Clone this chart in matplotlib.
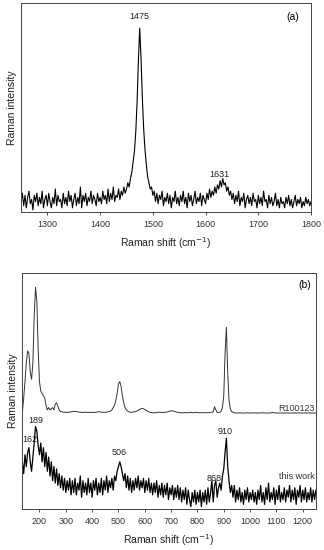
#!/usr/bin/env python3
import numpy as np
import matplotlib.pyplot as plt

plt.rcParams["font.family"] = ["Liberation Sans", "DejaVu Sans"]

# ===== data (intensities as fraction of axis height) =====
# panel (a): 1250-1800 cm-1, every 2.5 cm-1
shift_a = np.arange(0, 221) * 2.5 + 1250
inten_a = [
    0.05, 0.09, 0.03, 0.08, 0.02, 0.07, 0.10, 0.04, 0.06, 0.01, 0.08, 0.05, 0.09, 0.03, 0.07, 0.04, 0.10, 0.02, 0.06, 0.08,
    0.03, 0.09, 0.05, 0.02, 0.07, 0.04, 0.11, 0.03, 0.08, 0.05, 0.06, 0.02, 0.09, 0.04, 0.07, 0.03, 0.10, 0.05, 0.08, 0.02,
    0.06, 0.09, 0.03, 0.07, 0.04, 0.12, 0.02, 0.08, 0.05, 0.09, 0.03, 0.07, 0.05, 0.10, 0.04, 0.08, 0.06, 0.03, 0.09, 0.05,
    0.07, 0.04, 0.10, 0.06, 0.08, 0.04, 0.11, 0.05, 0.09, 0.06, 0.12, 0.05, 0.08, 0.07, 0.11, 0.06, 0.10, 0.08, 0.12, 0.09,
    0.11, 0.14, 0.12, 0.16, 0.19, 0.24, 0.29, 0.38, 0.52, 0.72, 0.88, 0.74, 0.55, 0.40, 0.30, 0.23, 0.17, 0.14, 0.11, 0.12,
    0.08, 0.10, 0.05, 0.09, 0.04, 0.08, 0.06, 0.10, 0.03, 0.07, 0.05, 0.09, 0.04, 0.08, 0.02, 0.07, 0.05, 0.10, 0.04, 0.07,
    0.03, 0.08, 0.05, 0.10, 0.04, 0.07, 0.02, 0.09, 0.05, 0.08, 0.03, 0.06, 0.10, 0.04, 0.07, 0.05, 0.09, 0.03, 0.08, 0.06,
    0.04, 0.09, 0.06, 0.11, 0.07, 0.10, 0.08, 0.12, 0.09, 0.13, 0.11, 0.15, 0.12, 0.16, 0.13, 0.14, 0.10, 0.12, 0.08, 0.10,
    0.06, 0.09, 0.04, 0.08, 0.05, 0.10, 0.03, 0.07, 0.05, 0.09, 0.02, 0.06, 0.08, 0.04, 0.07, 0.03, 0.09, 0.05, 0.06, 0.02,
    0.08, 0.04, 0.07, 0.03, 0.10, 0.05, 0.06, 0.02, 0.08, 0.04, 0.07, 0.03, 0.05, 0.09, 0.03, 0.06, 0.02, 0.07, 0.04, 0.05,
    0.02, 0.07, 0.04, 0.08, 0.03, 0.06, 0.02, 0.05, 0.08, 0.03, 0.06, 0.04, 0.07, 0.02, 0.05, 0.03, 0.07, 0.04, 0.06, 0.03,
    0.05,
]
peaks_a = [1475, 1631]

# panel (b): 135-1250 cm-1, every 5 cm-1
shift_b = np.arange(135, 1251, 5)
this_work = [
    0.20, 0.15, 0.23, 0.18, 0.24, 0.26, 0.20, 0.16, 0.22, 0.28, 0.35, 0.33, 0.27, 0.23, 0.28, 0.20, 0.26, 0.18, 0.24, 0.16,
    0.22, 0.14, 0.20, 0.12, 0.18, 0.11, 0.17, 0.10, 0.15, 0.09, 0.14, 0.08, 0.13, 0.07, 0.12, 0.08, 0.13, 0.06, 0.12, 0.07,
    0.13, 0.06, 0.11, 0.08, 0.14, 0.05, 0.12, 0.07, 0.11, 0.06, 0.13, 0.07, 0.11, 0.05, 0.12, 0.08, 0.13, 0.06, 0.11, 0.07,
    0.13, 0.06, 0.12, 0.08, 0.14, 0.07, 0.12, 0.09, 0.13, 0.08, 0.14, 0.12, 0.16, 0.18, 0.20, 0.18, 0.15, 0.12, 0.15, 0.09,
    0.14, 0.08, 0.13, 0.07, 0.12, 0.08, 0.13, 0.09, 0.14, 0.08, 0.12, 0.09, 0.13, 0.07, 0.12, 0.08, 0.13, 0.07, 0.11, 0.06,
    0.11, 0.07, 0.12, 0.05, 0.10, 0.06, 0.11, 0.05, 0.10, 0.06, 0.11, 0.04, 0.09, 0.06, 0.10, 0.04, 0.09, 0.05, 0.10, 0.04,
    0.09, 0.03, 0.08, 0.04, 0.09, 0.02, 0.08, 0.04, 0.01, 0.07, 0.03, 0.08, 0.02, 0.07, 0.03, 0.08, 0.01, 0.07, 0.03, 0.08,
    0.02, 0.09, 0.03, 0.07, 0.12, 0.03, 0.10, 0.12, 0.05, 0.09, 0.11, 0.08, 0.14, 0.17, 0.24, 0.30, 0.18, 0.12, 0.07, 0.10,
    0.05, 0.10, 0.03, 0.08, 0.04, 0.09, 0.03, 0.07, 0.02, 0.08, 0.04, 0.09, 0.03, 0.07, 0.04, 0.08, 0.03, 0.07, 0.02, 0.08,
    0.04, 0.10, 0.03, 0.07, 0.02, 0.09, 0.04, 0.11, 0.03, 0.07, 0.04, 0.09, 0.02, 0.08, 0.04, 0.10, 0.03, 0.07, 0.04, 0.09,
    0.03, 0.08, 0.05, 0.10, 0.03, 0.08, 0.04, 0.09, 0.02, 0.08, 0.05, 0.10, 0.03, 0.08, 0.04, 0.09, 0.03, 0.07, 0.04, 0.09,
    0.03, 0.08, 0.04, 0.08,
]
reference = [
    0.41, 0.47, 0.54, 0.62, 0.67, 0.66, 0.58, 0.55, 0.62, 0.82, 0.94, 0.88, 0.68, 0.54, 0.50, 0.49, 0.48, 0.47, 0.44, 0.42,
    0.43, 0.42, 0.425, 0.43, 0.42, 0.445, 0.45, 0.435, 0.42, 0.414, 0.412, 0.411, 0.41, 0.41, 0.409, 0.41, 0.411, 0.412, 0.413, 0.414,
    0.414, 0.413, 0.412, 0.411, 0.41, 0.41, 0.409, 0.41, 0.41, 0.41, 0.409, 0.41, 0.41, 0.41, 0.409, 0.41, 0.41, 0.411, 0.412, 0.413,
    0.41, 0.41, 0.41, 0.41, 0.411, 0.412, 0.413, 0.415, 0.42, 0.43, 0.44, 0.46, 0.49, 0.53, 0.54, 0.52, 0.48, 0.45, 0.43, 0.42,
    0.415, 0.412, 0.41, 0.41, 0.411, 0.412, 0.413, 0.415, 0.418, 0.422, 0.425, 0.426, 0.425, 0.422, 0.418, 0.415, 0.412, 0.41, 0.409, 0.408,
    0.408, 0.408, 0.409, 0.41, 0.41, 0.41, 0.409, 0.41, 0.41, 0.41, 0.411, 0.413, 0.415, 0.416, 0.416, 0.415, 0.413, 0.411, 0.41, 0.409,
    0.408, 0.408, 0.408, 0.409, 0.408, 0.408, 0.408, 0.409, 0.41, 0.408, 0.408, 0.409, 0.41, 0.409, 0.408, 0.408, 0.408, 0.409, 0.408, 0.408,
    0.408, 0.408, 0.409, 0.41, 0.41, 0.412, 0.433, 0.42, 0.41, 0.409, 0.41, 0.415, 0.43, 0.48, 0.66, 0.77, 0.58, 0.46, 0.425, 0.413,
    0.41, 0.408, 0.407, 0.407, 0.407, 0.408, 0.407, 0.407, 0.407, 0.407, 0.407, 0.408, 0.407, 0.407, 0.407, 0.407, 0.407, 0.408, 0.407, 0.407,
    0.407, 0.407, 0.408, 0.408, 0.407, 0.407, 0.407, 0.407, 0.407, 0.408, 0.409, 0.408, 0.407, 0.407, 0.407, 0.407, 0.407, 0.407, 0.407, 0.407,
    0.407, 0.407, 0.407, 0.407, 0.407, 0.407, 0.407, 0.407, 0.407, 0.407, 0.407, 0.407, 0.407, 0.407, 0.407, 0.407, 0.407, 0.407, 0.407, 0.407,
    0.407, 0.407, 0.407, 0.407,
]
peaks_b = ["162", "189", "506", "868", "910"]


def style_axis(ax, xlim, xticks):
    ax.set_xlim(*xlim)
    ax.set_ylim(0, 1)
    ax.set_xticks(xticks)
    ax.set_yticks([])
    ax.tick_params(axis="x", direction="out", length=2.5, width=0.6, labelsize=6.5, pad=3, colors="#333333")
    for sp in ax.spines.values():
        sp.set_linewidth(0.7)
        sp.set_color("#444444")
    ax.set_xlabel("Raman shift (cm$^{-1}$)", fontsize=7.5, labelpad=5, color="#222222")
    ax.set_ylabel("Raman intensity", fontsize=7.5, labelpad=3, color="#222222")


def plot_raman(save_path="out.png"):
    fig = plt.figure(figsize=(3.24, 5.5), dpi=100)

    # ----- (a) -----
    ax_a = fig.add_axes([0.065, 0.6145, 0.895, 0.38])
    ax_a.plot(shift_a, inten_a, color="black", lw=0.8)
    style_axis(ax_a, (1250, 1800), range(1300, 1801, 100))
    ax_a.text(peaks_a[0], 0.935, str(peaks_a[0]), fontsize=6.5, ha="center", va="center", color="#222222")
    ax_a.text(peaks_a[1] - 5, 0.18, str(peaks_a[1]), fontsize=6.5, ha="center", va="center", color="#222222")
    ax_a.text(0.96, 0.935, "(a)", transform=ax_a.transAxes, fontsize=7.5, ha="right", va="center")

    # ----- (b) -----
    ax_b = fig.add_axes([0.069, 0.0745, 0.906, 0.429])
    ax_b.plot(shift_b, reference, color="#333333", lw=0.7)
    ax_b.plot(shift_b, this_work, color="black", lw=0.9)
    style_axis(ax_b, (135, 1250), range(200, 1201, 100))
    label_pos = {"162": (164, 0.295), "189": (187, 0.374), "506": (502, 0.239),
                 "868": (864, 0.128), "910": (905, 0.328)}
    for lab in peaks_b:
        x, y = label_pos[lab]
        ax_b.text(x, y, lab, fontsize=6.5, ha="center", va="center", color="#222222")
    ax_b.text(0.997, 0.137, "this work", transform=ax_b.transAxes, fontsize=6.5, ha="right", va="center", color="#333333")
    ax_b.text(0.997, 0.425, "R100123", transform=ax_b.transAxes, fontsize=6.5, ha="right", va="center", color="#333333")
    ax_b.text(0.985, 0.95, "(b)", transform=ax_b.transAxes, fontsize=7.5, ha="right", va="center")

    fig.savefig(save_path, dpi=100)
    plt.close(fig)


if __name__ == "__main__":
    plot_raman("out.png")
